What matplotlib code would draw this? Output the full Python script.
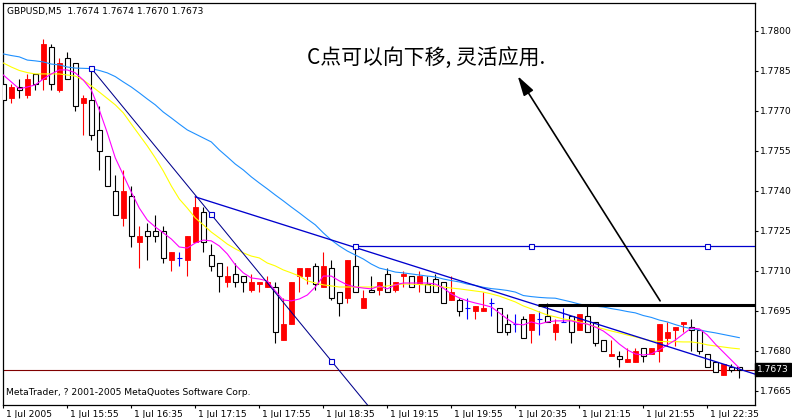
import numpy as np
import matplotlib
matplotlib.use("Agg")
import matplotlib.pyplot as plt
import matplotlib.transforms as mtransforms

# GBPUSD M5 bars, 1 Jul 2005 15:15 .. 22:55
opens = [1.7780, 1.7775, 1.7779, 1.7776, 1.7784, 1.7782, 1.7794, 1.7778, 1.7790, 1.7788,
         1.7773, 1.7774, 1.7763, 1.7753, 1.7740, 1.7730, 1.7738, 1.7721, 1.7725, 1.7725,
         1.7725, 1.7714, 1.7715, 1.7714, 1.7721, 1.7732, 1.7716, 1.7713, 1.7706, 1.7709,
         1.7708, 1.7703, 1.7705, 1.7704, 1.7704, 1.7684, 1.7690, 1.7708, 1.7708, 1.7712,
         1.7704, 1.7711, 1.7702, 1.7700, 1.7712, 1.7696, 1.7703, 1.7703, 1.7709, 1.7703,
         1.7708, 1.7708, 1.7705, 1.7705, 1.7707, 1.7706, 1.7699, 1.7699, 1.7696, 1.7695,
         1.7695, 1.7698, 1.7696, 1.7690, 1.7690, 1.7692, 1.7688, 1.7692, 1.7693, 1.7687,
         1.7691, 1.7693, 1.7688, 1.7693, 1.7691, 1.7684, 1.7678, 1.7678, 1.7676, 1.7676,
         1.7681, 1.7679, 1.7680, 1.7685, 1.7688, 1.7690, 1.7689, 1.7688, 1.7679, 1.7676,
         1.7671, 1.7674, 1.7674]
highs = [1.7780, 1.7780, 1.7782, 1.7784, 1.7784, 1.7797, 1.7795, 1.7790, 1.7792, 1.7788,
         1.7776, 1.7786, 1.7772, 1.7753, 1.7746, 1.7748, 1.7742, 1.7727, 1.7728, 1.7731,
         1.7727, 1.7717, 1.7717, 1.7723, 1.7738, 1.7734, 1.7720, 1.7713, 1.7712, 1.7713,
         1.7708, 1.7709, 1.7706, 1.7708, 1.7706, 1.7700, 1.7706, 1.7711, 1.7711, 1.7713,
         1.7717, 1.7714, 1.7702, 1.7714, 1.7719, 1.7703, 1.7708, 1.7706, 1.7711, 1.7706,
         1.7710, 1.7708, 1.7710, 1.7708, 1.7709, 1.7706, 1.7708, 1.7700, 1.7700, 1.7697,
         1.7702, 1.7700, 1.7696, 1.7694, 1.7694, 1.7693, 1.7694, 1.7695, 1.7698, 1.7692,
         1.7696, 1.7693, 1.7694, 1.7697, 1.7691, 1.7684, 1.7684, 1.7680, 1.7681, 1.7681,
         1.7681, 1.7681, 1.7690, 1.7691, 1.7689, 1.7691, 1.7692, 1.7688, 1.7679, 1.7676,
         1.7675, 1.7675, 1.7674]
lows = [1.7773, 1.7773, 1.7775, 1.7775, 1.7778, 1.7778, 1.7778, 1.7777, 1.7782, 1.7770,
        1.7761, 1.7759, 1.7748, 1.7742, 1.7731, 1.7727, 1.7719, 1.7711, 1.7714, 1.7721,
        1.7713, 1.7710, 1.7712, 1.7708, 1.7721, 1.7717, 1.7710, 1.7702, 1.7704, 1.7704,
        1.7702, 1.7702, 1.7702, 1.7704, 1.7683, 1.7684, 1.7690, 1.7702, 1.7705, 1.7703,
        1.7704, 1.7699, 1.7693, 1.7698, 1.7702, 1.7696, 1.7702, 1.7701, 1.7702, 1.7702,
        1.7704, 1.7704, 1.7702, 1.7702, 1.7702, 1.7698, 1.7699, 1.7693, 1.7692, 1.7692,
        1.7695, 1.7693, 1.7687, 1.7686, 1.7687, 1.7685, 1.7683, 1.7686, 1.7691, 1.7684,
        1.7691, 1.7683, 1.7688, 1.7687, 1.7682, 1.7680, 1.7678, 1.7674, 1.7676, 1.7676,
        1.7676, 1.7679, 1.7676, 1.7682, 1.7682, 1.7687, 1.7680, 1.7679, 1.7674, 1.7672,
        1.7671, 1.7672, 1.7670]
closes = [1.7774, 1.7779, 1.7778, 1.7782, 1.7780, 1.7795, 1.7780, 1.7788, 1.7782, 1.7772,
          1.7775, 1.7761, 1.7755, 1.7742, 1.7731, 1.7740, 1.7723, 1.7723, 1.7723, 1.7723,
          1.7715, 1.7717, 1.7715, 1.7723, 1.7734, 1.7721, 1.7712, 1.7708, 1.7708, 1.7706,
          1.7706, 1.7706, 1.7706, 1.7706, 1.7687, 1.7690, 1.7706, 1.7711, 1.7711, 1.7705,
          1.7712, 1.7700, 1.7698, 1.7714, 1.7702, 1.7700, 1.7702, 1.7706, 1.7702, 1.7706,
          1.7709, 1.7704, 1.7708, 1.7702, 1.7702, 1.7698, 1.7702, 1.7695, 1.7696, 1.7697,
          1.7696, 1.7698, 1.7687, 1.7687, 1.7690, 1.7685, 1.7694, 1.7692, 1.7691, 1.7690,
          1.7691, 1.7687, 1.7694, 1.7687, 1.7683, 1.7680, 1.7679, 1.7677, 1.7677, 1.7680,
          1.7678, 1.7681, 1.7690, 1.7687, 1.7689, 1.7691, 1.7688, 1.7680, 1.7674, 1.7672,
          1.7675, 1.7673, 1.7673]

# moving average lines as they appear on the chart
ma_magenta = [1.77835, 1.77809, 1.77783, 1.7779, 1.77798, 1.7782, 1.77839, 1.77854, 1.77854, 1.77843,
              1.77816, 1.77779, 1.77704, 1.77618, 1.77524, 1.7746, 1.77396, 1.77336, 1.77291, 1.77265,
              1.77243, 1.7722, 1.7719, 1.77186, 1.77205, 1.77216, 1.77213, 1.77194, 1.77164, 1.77123,
              1.77093, 1.77074, 1.7707, 1.77063, 1.77025, 1.76991, 1.76988, 1.76995, 1.7701, 1.7704,
              1.77081, 1.77081, 1.77063, 1.77048, 1.7704, 1.77036, 1.77033, 1.77044, 1.77033, 1.77048,
              1.77055, 1.77055, 1.77055, 1.77055, 1.77051, 1.77036, 1.77014, 1.76999, 1.76988, 1.7698,
              1.76973, 1.76965, 1.76943, 1.7692, 1.76901, 1.76898, 1.76909, 1.76901, 1.76909, 1.76913,
              1.76913, 1.76913, 1.76905, 1.76901, 1.7689, 1.76875, 1.76853, 1.76826, 1.76804, 1.76789,
              1.76785, 1.76789, 1.76804, 1.76823, 1.76841, 1.76864, 1.76886, 1.76883, 1.7686, 1.76826,
              1.76796, 1.76766, 1.76736]
ma_yellow = [1.7788, 1.77865, 1.77852, 1.77844, 1.77839, 1.77839, 1.77839, 1.77839, 1.77835, 1.77831,
             1.77816, 1.77794, 1.77771, 1.77747, 1.77723, 1.77693, 1.77651, 1.7761, 1.77569, 1.77524,
             1.77475, 1.77419, 1.7737, 1.77336, 1.77299, 1.77273, 1.77246, 1.77224, 1.77201, 1.77183,
             1.77168, 1.77156, 1.77149, 1.7713, 1.77119, 1.77104, 1.77093, 1.77081, 1.77063, 1.77055,
             1.77048, 1.77044, 1.7704, 1.7704, 1.7704, 1.7704, 1.7704, 1.7704, 1.77044, 1.77048,
             1.77051, 1.77051, 1.77049, 1.77048, 1.77044, 1.7704, 1.77036, 1.77033, 1.77029, 1.77025,
             1.77021, 1.77014, 1.77006, 1.76995, 1.76984, 1.76969, 1.76958, 1.76946, 1.76935, 1.76928,
             1.7692, 1.76916, 1.76909, 1.76901, 1.7689, 1.76883, 1.76875, 1.76868, 1.7686, 1.76853,
             1.76845, 1.76838, 1.76836, 1.76835, 1.76835, 1.76834, 1.76834, 1.7683, 1.76823, 1.76819,
             1.76815, 1.76811, 1.76808]
ma_blue = [1.77914, 1.77908, 1.77903, 1.77891, 1.77888, 1.77884, 1.77876, 1.77873, 1.77865, 1.77861,
           1.7786, 1.77859, 1.77852, 1.77843, 1.77829, 1.77809, 1.7779, 1.77768, 1.77745, 1.77723,
           1.77696, 1.77674, 1.77651, 1.77629, 1.77614, 1.77599, 1.77584, 1.77554, 1.77528, 1.77501,
           1.77479, 1.77453, 1.7743, 1.77408, 1.77385, 1.77363, 1.7734, 1.77318, 1.77295, 1.77273,
           1.77243, 1.77216, 1.77194, 1.77175, 1.7716, 1.77145, 1.77126, 1.77111, 1.77104, 1.77096,
           1.77093, 1.77089, 1.77085, 1.77081, 1.77078, 1.7707, 1.77064, 1.77059, 1.77051, 1.77046,
           1.77039, 1.77034, 1.77031, 1.77027, 1.77021, 1.77008, 1.77004, 1.77001, 1.76999, 1.76998,
           1.76991, 1.76984, 1.76976, 1.7697, 1.76968, 1.76965, 1.76959, 1.76954, 1.76948, 1.76943,
           1.76933, 1.76926, 1.76916, 1.76909, 1.76899, 1.7689, 1.76884, 1.76879, 1.76873, 1.76868,
           1.76862, 1.76856, 1.7685]

# hand-drawn objects (bar index, price)
trend1 = [(11, 1.7786), (41, 1.76763)]
trend1_marks = [(11, 1.7786), (26, 1.77314), (41, 1.76763)]
trend2 = [(24, 1.77378), (44, 1.77188)]
level_c = 1.77194
level_c_marks = [44, 66, 88]
level_black = 1.76972
level_black_start = 66.8
bid = 1.7673
arrow_from = (82.1, 1.76988)
arrow_to = (64.3, 1.77831)
note = "C点可以向下移, 灵活应用."
note_pos = (52.8, 1.77900)

time_ticks = [0, 8, 16, 24, 32, 40, 48, 56, 64, 72, 80, 88]
time_labels = ["1 Jul 2005", "1 Jul 15:55", "1 Jul 16:35", "1 Jul 17:15", "1 Jul 17:55",
               "1 Jul 18:35", "1 Jul 19:15", "1 Jul 19:55", "1 Jul 20:35", "1 Jul 21:15",
               "1 Jul 21:55", "1 Jul 22:35"]
price_ticks = [1.7665, 1.7680, 1.7695, 1.7710, 1.7725, 1.7740, 1.7755, 1.7770, 1.7785, 1.7800]

o = np.array(opens)
h = np.array(highs)
l = np.array(lows)
c = np.array(closes)
x = np.arange(len(o))

fig = plt.figure(figsize=(7.92, 4.18), dpi=100)
ax = fig.add_axes([2.5 / 792, 13 / 418, 752.5 / 792, 402 / 418])
ax.set_xlim(-0.1, 93.96)
ax.set_ylim(1.765975, 1.78105)

up = c > o
dn = c < o
dj = c == o
bw = 0.55

# candles: red = rising, hollow = falling, blue cross = doji
ax.vlines(x[up], l[up], h[up], color="red", lw=0.8, zorder=3)
ax.bar(x[up], c[up] - o[up], bottom=o[up], width=bw, color="red", edgecolor="red", lw=0.6, zorder=4)
ax.vlines(x[dn], l[dn], h[dn], color="black", lw=0.8, zorder=3)
ax.bar(x[dn], o[dn] - c[dn], bottom=c[dn], width=bw, facecolor="white", edgecolor="black", lw=0.8, zorder=4)
ax.vlines(x[dj], l[dj], h[dj], color="blue", lw=0.8, zorder=3)
ax.hlines(o[dj], x[dj] - 0.32, x[dj] + 0.32, color="blue", lw=0.8, zorder=3)

ax.plot(x, ma_blue, color="#1e90ff", lw=0.8, zorder=5)
ax.plot(x, ma_yellow, color="#ffff00", lw=0.8, zorder=5)
ax.plot(x, ma_magenta, color="#ff00ff", lw=0.8, zorder=5)

# trend lines drawn as rays from their first anchor
def ray(p1, p2, x_end):
    s = (p2[1] - p1[1]) / (p2[0] - p1[0])
    return [p1[0], x_end], [p1[1], p1[1] + s * (x_end - p1[0])]

rx, ry = ray(trend1[0], trend1[1], 60)
ax.plot(rx, ry, color="#00008b", lw=0.75, zorder=6)
rx, ry = ray(trend2[0], trend2[1], 96)
ax.plot(rx, ry, color="#0000cd", lw=0.95, zorder=6)
ax.hlines(level_c, level_c_marks[0], 96, color="#0000cd", lw=0.9, zorder=6)
ax.plot([p[0] for p in trend1_marks], [p[1] for p in trend1_marks], "s", ms=3.6,
        mfc="white", mec="#0000cd", mew=0.8, zorder=7)
ax.plot([trend2[1][0]] + level_c_marks[1:], [level_c] * 3, "s", ms=3.6,
        mfc="white", mec="#0000cd", mew=0.8, zorder=7)

ax.hlines(level_black, level_black_start, 96, color="black", lw=2.2, zorder=6)
ax.axhline(bid, color="#800000", lw=0.8, zorder=2)

ax.annotate("", xy=arrow_to, xytext=arrow_from,
            arrowprops=dict(arrowstyle="-|>,head_length=1.2,head_width=0.34",
                            mutation_scale=10, color="black", lw=1.2,
                            shrinkA=0, shrinkB=0), zorder=8)
ax.text(note_pos[0], note_pos[1], note, ha="center", va="center", fontsize=15,
        family=["Noto Sans CJK SC", "DejaVu Sans"], color="black", zorder=8)

ax.text(0.0055, 0.98, "GBPUSD,M5  1.7674 1.7674 1.7670 1.7673", transform=ax.transAxes,
        fontsize=6.6, va="center", ha="left")
ax.text(0.0048, 0.032, "MetaTrader, ? 2001-2005 MetaQuotes Software Corp.", transform=ax.transAxes,
        fontsize=6.6, va="center", ha="left")

# axes, ticks, labels
ax.yaxis.tick_right()
ax.set_yticks(price_ticks)
ax.set_yticklabels(["%.4f" % p for p in price_ticks])
ax.set_xticks(time_ticks)
ax.set_xticklabels(time_labels, ha="left")
ax.tick_params(axis="both", direction="out", length=2.4, width=0.8, labelsize=6.6, pad=1.5)
shift = mtransforms.ScaledTranslation(3 / 100, 0, fig.dpi_scale_trans)
for lab in ax.get_xticklabels():
    lab.set_transform(lab.get_transform() + shift)
for sp in ax.spines.values():
    sp.set_linewidth(0.9)
    sp.set_color("black")

blend = mtransforms.blended_transform_factory(ax.transAxes, ax.transData)
ax.text(1.003, bid, "1.7673", transform=blend, ha="left", va="center", fontsize=6.6,
        color="white", bbox=dict(boxstyle="square,pad=0.25", fc="black", ec="black"), zorder=9)

fig.savefig("out.png", dpi=100, facecolor="white")
